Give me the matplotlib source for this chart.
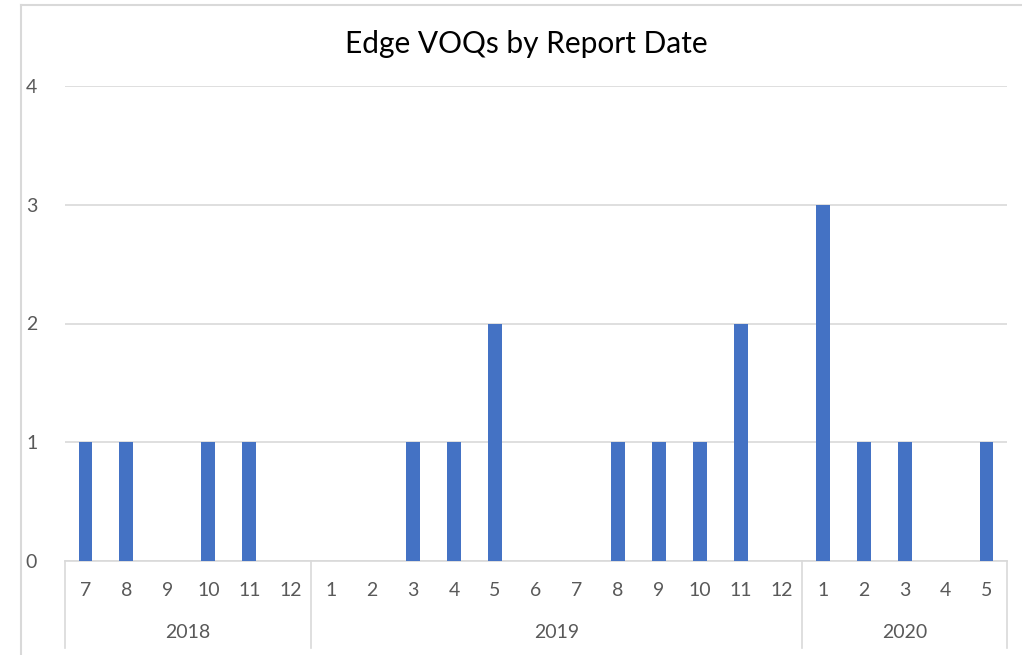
import matplotlib
matplotlib.use("Agg")
import matplotlib.pyplot as plt
from matplotlib.lines import Line2D
import matplotlib.transforms as mtransforms

years = ["2018", "2019", "2020"]
months = [
    ["7", "8", "9", "10", "11", "12"],
    ["1", "2", "3", "4", "5", "6", "7", "8", "9", "10", "11", "12"],
    ["1", "2", "3", "4", "5"],
]
values = [
    [1, 1, 0, 1, 1, 0],
    [0, 0, 1, 1, 2, 0, 0, 1, 1, 1, 2, 0],
    [3, 1, 1, 0, 1],
]
title = "Edge VOQs by Report Date"

plt.rcParams['font.family'] = ['Lato', 'DejaVu Sans']
text_color = "#595959"
grid_color = "#D9D9D9"
bar_color = "#4472C4"

W, H = 1022, 655
fig = plt.figure(figsize=(W / 100, H / 100), dpi=100)
ax = fig.add_axes([65 / W, 1 - 561 / H, (1007 - 65) / W, (561 - 86) / H])

labels = [m for grp in months for m in grp]
vals = [v for grp in values for v in grp]
x = list(range(len(labels)))

ax.bar(x, vals, width=0.34, color=bar_color, zorder=3)
ax.set_xlim(-0.5, len(labels) - 0.5)
ax.set_ylim(0, 4)
ax.set_yticks([0, 1, 2, 3, 4])
ax.yaxis.grid(True, color=grid_color, linewidth=1.2, zorder=0)
ax.tick_params(axis='y', length=0, pad=20, labelsize=14, labelcolor=text_color)
ax.set_xticks([])
for s in ax.spines.values():
    s.set_visible(False)
ax.axhline(0, color=grid_color, linewidth=1.2, zorder=2, clip_on=False)

trans = mtransforms.blended_transform_factory(ax.transData, ax.transAxes)
axh = 561 - 86
for i, lab in enumerate(labels):
    ax.text(i, -29 / axh, lab, transform=trans, ha='center', va='center',
            fontsize=14, color=text_color)

start = -0.5
bounds = [start]
for yr, grp in zip(years, months):
    end = start + len(grp)
    ax.text((start + end) / 2, -71 / axh, yr, transform=trans, ha='center',
            va='center', fontsize=14, color=text_color)
    bounds.append(end)
    start = end
for b in bounds:
    ax.add_line(Line2D([b, b], [0, -87 / axh], transform=trans, color=grid_color,
                       linewidth=1.2, clip_on=False))

fig.text(526 / W, 1 - 44 / H, title, ha='center', va='center', fontsize=21.5,
         color="#000000")

# chart border
fig.add_artist(Line2D([21 / W, 21 / W], [0, 1 - 5 / H], transform=fig.transFigure,
                      color=grid_color, linewidth=1.5))
fig.add_artist(Line2D([21 / W, 1], [1 - 5 / H, 1 - 5 / H], transform=fig.transFigure,
                      color=grid_color, linewidth=1.5))

fig.savefig("out.png", dpi=100, facecolor="white")
